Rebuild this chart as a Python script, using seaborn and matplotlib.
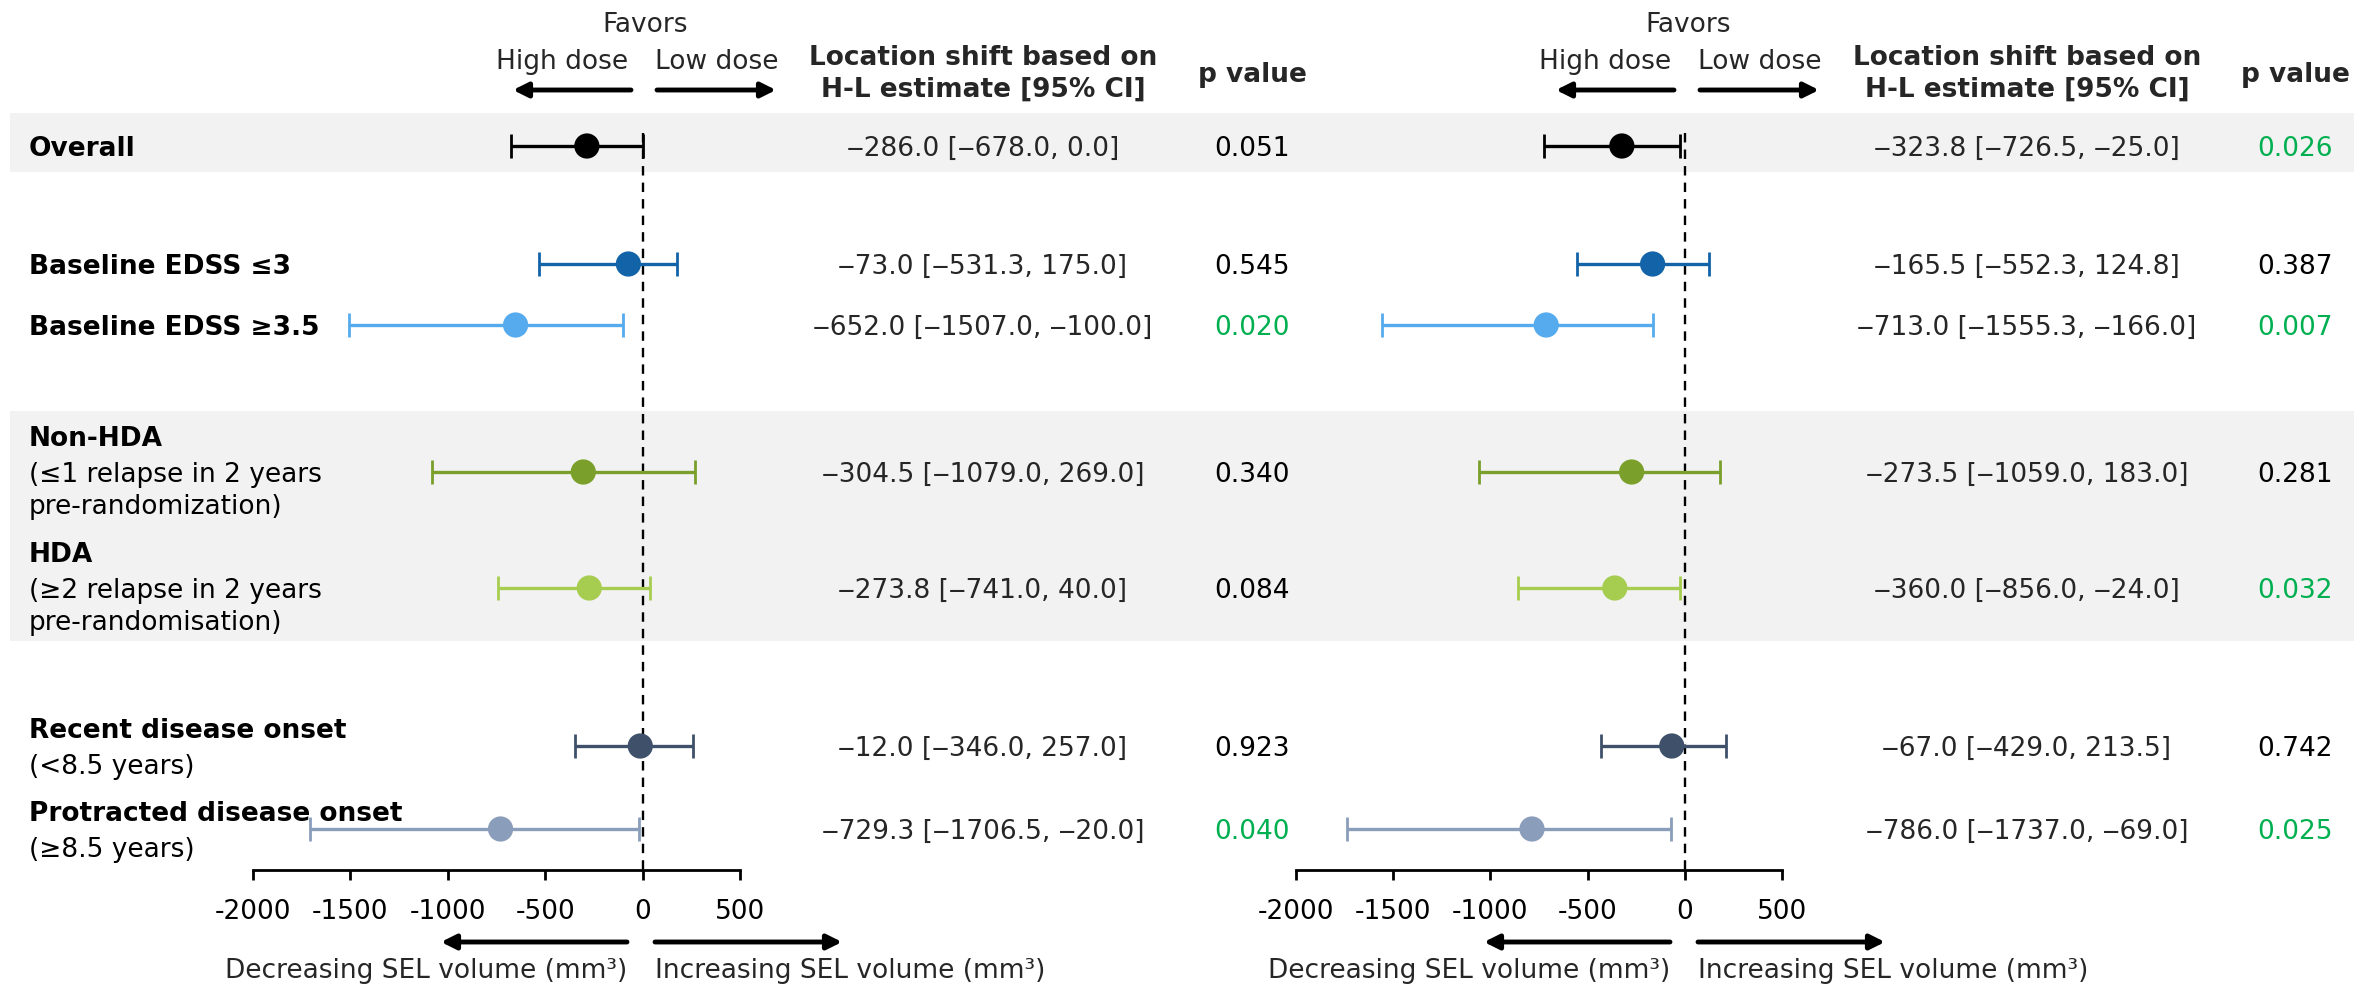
import numpy as np
import pandas as pd
import matplotlib
matplotlib.use("Agg")
import matplotlib.pyplot as plt
import seaborn as sns

# ---------------- data ----------------
subgroups = [
    "Overall",
    "Baseline EDSS ≤3",
    "Baseline EDSS ≥3.5",
    "Non-HDA",
    "HDA",
    "Recent disease onset",
    "Protracted disease onset",
]
subgroup_notes = [
    "",
    "",
    "",
    "(≤1 relapse in 2 years\npre-randomization)",
    "(≥2 relapse in 2 years\npre-randomisation)",
    "(<8.5 years)",
    "(≥8.5 years)",
]

left_est = [-286.0, -73.0, -652.0, -304.5, -273.8, -12.0, -729.3]
left_lo = [-678.0, -531.3, -1507.0, -1079.0, -741.0, -346.0, -1706.5]
left_hi = [0.0, 175.0, -100.0, 269.0, 40.0, 257.0, -20.0]
left_p = [0.051, 0.545, 0.020, 0.340, 0.084, 0.923, 0.040]

right_est = [-323.8, -165.5, -713.0, -273.5, -360.0, -67.0, -786.0]
right_lo = [-726.5, -552.3, -1555.3, -1059.0, -856.0, -429.0, -1737.0]
right_hi = [-25.0, 124.8, -166.0, 183.0, -24.0, 213.5, -69.0]
right_p = [0.026, 0.387, 0.007, 0.281, 0.032, 0.742, 0.025]

x_ticks = [-2000, -1500, -1000, -500, 0, 500]

# ---------------- style / layout ----------------
subgroup_colors = ["#000000", "#1263A8", "#55ABEE", "#7AA02B",
                   "#A6CD4F", "#3F506A", "#8A9DBA"]
sig_color = "#00B050"
band_color = "#F2F2F2"

sns.set_theme(style="white")
plt.rcParams["font.family"] = ["DejaVu Sans"]
plt.rcParams["axes.unicode_minus"] = False

W, H = 2354, 984
FS = 19

# vertical layout (pixel rows, from the top)
row_y = [146, 264, 325, 472, 588, 746, 829]
axis_y = 870
plot_top = 120
title_gap = 36
line_gap = 32

# panel zero positions and extent (pixels)
panels = [
    dict(x0=253, x1=740, zero=642, est_x=983, p_x=1252),
    dict(x0=1296, x1=1782, zero=1685, est_x=2027, p_x=2295),
]

fig = plt.figure(figsize=(W / 100, H / 100), dpi=100)

# background canvas in pixel coordinates
bg = fig.add_axes([0, 0, 1, 1])
bg.set_xlim(0, W)
bg.set_ylim(H, 0)
bg.axis("off")

# shaded group bands
bg.add_patch(plt.Rectangle((10, 113), W - 10, 59, color=band_color, lw=0, zorder=0))
bg.add_patch(plt.Rectangle((10, 411), W - 10, 230, color=band_color, lw=0, zorder=0))

# row labels: bold title followed by normal-weight notes
for title, note, y in zip(subgroups, subgroup_notes, row_y):
    notes = note.split("\n") if note else []
    offsets = [0.0]
    for i in range(len(notes)):
        offsets.append(offsets[-1] + (title_gap if i == 0 else line_gap))
    # two-line notes: the first note line sits on the row; otherwise centre the block
    anchor = offsets[1] if len(notes) == 2 else offsets[-1] / 2
    for i, (line, off) in enumerate(zip([title] + notes, offsets)):
        bg.text(29, y - anchor + off, line, fontsize=FS,
                fontweight="bold" if i == 0 else "normal",
                ha="left", va="center_baseline", color="black")


def fmt(v):
    return f"{v:.1f}".replace("-", "\u2012")


def arrow(x_tail, x_head, y):
    bg.annotate("", xy=(x_head, y), xytext=(x_tail, y),
                arrowprops=dict(arrowstyle="-|>", lw=3.5, color="black",
                                mutation_scale=22, shrinkA=0, shrinkB=0))


def draw_panel(p, est, lo, hi, pvals):
    z = p["zero"]
    # header
    bg.text(z + 3, 25, "Favors", fontsize=FS, ha="center", va="center")
    bg.text(z - 80, 62, "High dose", fontsize=FS, ha="center", va="center")
    bg.text(z + 75, 62, "Low dose", fontsize=FS, ha="center", va="center")
    arrow(z - 11, z - 129, 90)
    arrow(z + 15, z + 134, 90)
    bg.text(p["est_x"], 58, "Location shift based on", fontsize=FS,
            fontweight="bold", ha="center", va="center")
    bg.text(p["est_x"], 90, "H-L estimate [95% CI]", fontsize=FS,
            fontweight="bold", ha="center", va="center")
    bg.text(p["p_x"], 75, "p value", fontsize=FS, fontweight="bold",
            ha="center", va="center")

    # value columns
    for e, l, h, pv, y in zip(est, lo, hi, pvals, row_y):
        bg.text(p["est_x"], y, f"{fmt(e)} [{fmt(l)}, {fmt(h)}]", fontsize=FS,
                ha="center", va="center_baseline")
        bg.text(p["p_x"], y, f"{pv:.3f}", fontsize=FS, ha="center",
                va="center_baseline",
                color=sig_color if pv < 0.05 else "black")

    # footer arrows and captions
    arrow(z - 15, z - 201, 942)
    arrow(z + 13, z + 200, 942)
    bg.text(z - 15, 971, "Decreasing SEL volume (mm³)", fontsize=FS,
            ha="right", va="center")
    bg.text(z + 13, 971, "Increasing SEL volume (mm³)", fontsize=FS,
            ha="left", va="center")

    # forest axes
    ax = fig.add_axes([p["x0"] / W, (H - axis_y) / H,
                       (p["x1"] - p["x0"]) / W, (axis_y - plot_top) / H])
    ax.patch.set_alpha(0)
    df = pd.DataFrame({"subgroup": subgroups, "est": est, "lo": lo,
                       "hi": hi, "y": row_y})
    ax.vlines(0, 133, axis_y, colors="black", linestyles=(0, (4, 3)),
              lw=1.7, zorder=1, clip_on=False)
    for _, r in df.iterrows():
        c = subgroup_colors[subgroups.index(r["subgroup"])]
        ax.errorbar(r["est"], r["y"],
                    xerr=[[r["est"] - r["lo"]], [r["hi"] - r["est"]]],
                    fmt="none", ecolor=c, elinewidth=2.4, capsize=8.5,
                    capthick=2, zorder=2, clip_on=False)
    sns.scatterplot(data=df, x="est", y="y", hue="subgroup",
                    palette=dict(zip(subgroups, subgroup_colors)),
                    s=330, edgecolor="none", linewidth=0, legend=False,
                    ax=ax, zorder=3, clip_on=False)
    ax.set_xlim(-2000, 500)
    ax.set_ylim(axis_y, plot_top)
    ax.set_xticks(x_ticks)
    ax.set_xticklabels([str(t) for t in x_ticks])
    ax.set_yticks([])
    ax.set_xlabel("")
    ax.set_ylabel("")
    for s in ["top", "left", "right"]:
        ax.spines[s].set_visible(False)
    ax.spines["bottom"].set_linewidth(2)
    ax.spines["bottom"].set_color("black")
    ax.tick_params(axis="x", direction="out", length=7, width=2,
                   pad=14, labelsize=FS, colors="black", bottom=True)
    return ax


draw_panel(panels[0], left_est, left_lo, left_hi, left_p)
draw_panel(panels[1], right_est, right_lo, right_hi, right_p)

fig.savefig("out.png", dpi=100)
